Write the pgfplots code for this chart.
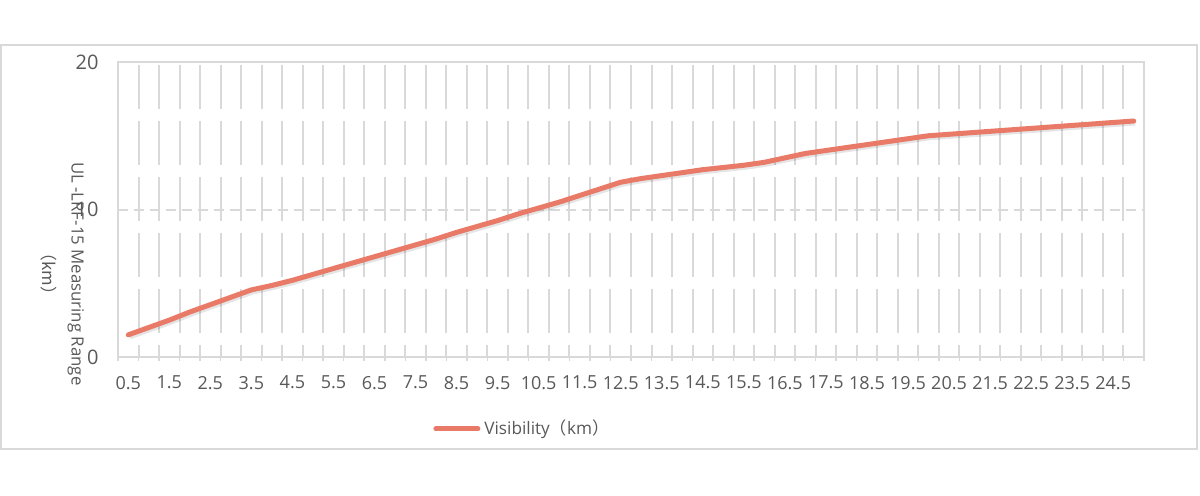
\documentclass[border=0pt]{standalone}
\usepackage{fontspec}
\setmainfont{Open Sans}
\newfontfamily\cjk{Noto Sans CJK SC}
\usepackage{pgfplots}
\pgfplotsset{compat=1.18}
\usepackage{pgfplotstable}

\definecolor{txt}{HTML}{595959}
\definecolor{gridc}{HTML}{D9D9D9}
\definecolor{linec}{HTML}{E97A68}

% visibility (km) vs measuring range (km)
\pgfplotstableread{
km   range
0.5  1.5
1    2.0
1.5  2.5
2    3.05
2.5  3.55
3    4.05
3.5  4.55
4    4.85
4.5  5.2
5    5.6
5.5  6.0
6    6.4
6.5  6.8
7    7.2
7.5  7.6
8    8.0
8.5  8.45
9    8.85
9.5  9.25
10   9.7
10.5 10.1
11   10.5
11.5 10.95
12   11.4
12.5 11.85
13   12.1
13.5 12.3
14   12.5
14.5 12.7
15   12.85
15.5 13.0
16   13.2
16.5 13.5
17   13.8
17.5 14.0
18   14.2
18.5 14.4
19   14.6
19.5 14.8
20   15.0
20.5 15.1
21   15.2
21.5 15.3
22   15.4
22.5 15.5
23   15.6
23.5 15.7
24   15.8
24.5 15.9
25   16.0
}\rangedata

\begin{document}
\begin{tikzpicture}[x=1pt,y=1pt]
  \fill[white] (0,0) rectangle (600,247.5);
  \draw[gridc, line width=1pt] (0.5,23) rectangle (598.5,225);
  \begin{axis}[
    at={(59pt,69pt)}, anchor=south west,
    scale only axis, width=513pt, height=147.5pt,
    xmin=-0.5, xmax=49.5, ymin=0, ymax=20,
    axis line style={gridc, line width=1pt},
    xtick={0,2,...,48},
    xticklabels={0.5,1.5,2.5,3.5,4.5,5.5,6.5,7.5,8.5,9.5,10.5,11.5,12.5,13.5,14.5,15.5,16.5,17.5,18.5,19.5,20.5,21.5,22.5,23.5,24.5},
    minor xtick={-0.5,0.5,...,49.5},
    ytick={0,10,20},
    xtick pos=lower, ytick pos=left,
    major tick length=0pt,
    minor tick length=2pt,
    tick align=outside,
    minor tick style={gridc, line width=0.75pt},
    xminorgrids=true, ymajorgrids=true,
    minor grid style={gridc, line width=1pt, dash pattern=on 22pt off 6pt, dash phase=16pt},
    major grid style={gridc, line width=1pt, dash pattern=on 5pt off 3pt},
    /pgf/number format/assume math mode=true,
    xticklabel style={font=\fontsize{9}{11}\selectfont, text=txt, yshift=-6pt},
    yticklabel style={font=\fontsize{10}{12}\selectfont, text=txt, xshift=-6.2pt},
    ylabel={UL -LRF-15 Measuring Range\\[4.5pt]{\cjk （km）}},
    every axis y label/.style={at={(rel axis cs:-0.054,0.282)}, rotate=-90, anchor=center,
      align=center, font=\fontsize{8.4}{10}\selectfont, text=txt},
    legend style={at={(rel axis cs:0.307,-0.244)}, anchor=west, draw=none, fill=none,
      inner sep=0pt, font=\fontsize{8.6}{10}\selectfont, text=txt},
    legend image code/.code={\draw[linec, line width=2.5pt] (0pt,0pt) -- (21pt,0pt);},
  ]
    \addplot[forget plot, black, opacity=0.1, line width=2.5pt, line join=round,
      xshift=0.8pt, yshift=-1pt]
      table[x expr=2*\thisrow{km}-1, y=range] {\rangedata};
    \addplot[linec, line width=2.5pt, line join=round, line cap=round]
      table[x expr=2*\thisrow{km}-1, y=range] {\rangedata};
    \addlegendentry{Visibility{\cjk （}km{\cjk ）}}
  \end{axis}
\end{tikzpicture}
\end{document}
